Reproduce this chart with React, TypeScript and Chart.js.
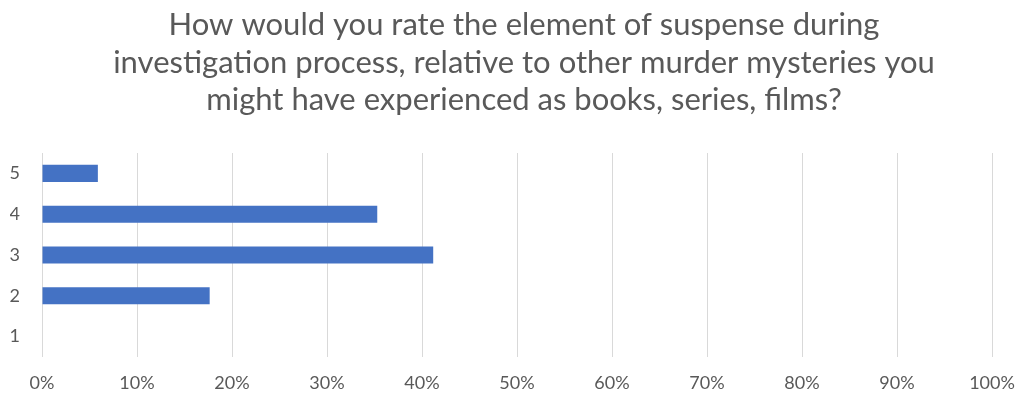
import React, { useEffect, useRef } from "react";
import { Chart, registerables } from "chart.js";

Chart.register(...registerables);

const titleLines = [
  "How would you rate the element of suspense during",
  "investigation process, relative to other murder mysteries you",
  "might have experienced as books, series, films?",
];
const categories = ["5", "4", "3", "2", "1"];
const shares = [5.88, 35.29, 41.18, 17.65, 0];
const xTicks = [0, 10, 20, 30, 40, 50, 60, 70, 80, 90, 100];

const titlePlugin = {
  id: "centeredTitle",
  afterDraw(chart: any) {
    const ctx = chart.ctx;
    ctx.save();
    ctx.fillStyle = "#595959";
    ctx.font = "31px Lato, sans-serif";
    ctx.textAlign = "center";
    ctx.textBaseline = "middle";
    titleLines.forEach((line, i) => {
      ctx.fillText(line, 524, 25 + i * 37.5);
    });
    ctx.restore();
  },
};

export default function App() {
  const ref = useRef<HTMLCanvasElement | null>(null);
  useEffect(() => {
    if (!ref.current) return;
    const chart = new Chart(ref.current, {
      type: "bar",
      data: {
        labels: categories,
        datasets: [
          {
            data: shares,
            backgroundColor: "#4472C4",
            barPercentage: 0.42,
            categoryPercentage: 1,
          },
        ],
      },
      plugins: [titlePlugin],
      options: {
        indexAxis: "y",
        animation: false,
        responsive: false,
        layout: { autoPadding: false, padding: { left: 10, right: 29, top: 153, bottom: 4 } },
        plugins: {
          legend: { display: false },
          tooltip: { enabled: false },
          title: { display: false },
        },
        scales: {
          x: {
            min: 0,
            max: 100,
            afterBuildTicks: (axis: any) => {
              axis.ticks = xTicks.map((v) => ({ value: v }));
            },
            afterFit: (axis: any) => {
              axis.height = 35;
              axis.paddingLeft = 0;
              axis.paddingRight = 0;
            },
            ticks: {
              callback: (v: any) => v + "%",
              color: "#595959",
              font: { family: "Lato, sans-serif", size: 18 },
              padding: 15,
              maxRotation: 0,
              autoSkip: false,
            },
            grid: { color: "#d9d9d9", drawTicks: false, lineWidth: 1 },
            border: { display: false },
          },
          y: {
            afterFit: (axis: any) => {
              axis.width = 32;
            },
            ticks: {
              color: "#595959",
              font: { family: "Lato, sans-serif", size: 18 },
              padding: 22,
            },
            grid: { display: false, drawTicks: false },
            border: { display: false },
          },
        },
      },
    });
    return () => chart.destroy();
  }, []);
  return (
    <div style={{ position: "fixed", left: 0, top: 0, width: 1021, height: 396, background: "#fff" }}>
      <canvas ref={ref} width={1021} height={396} />
    </div>
  );
}
